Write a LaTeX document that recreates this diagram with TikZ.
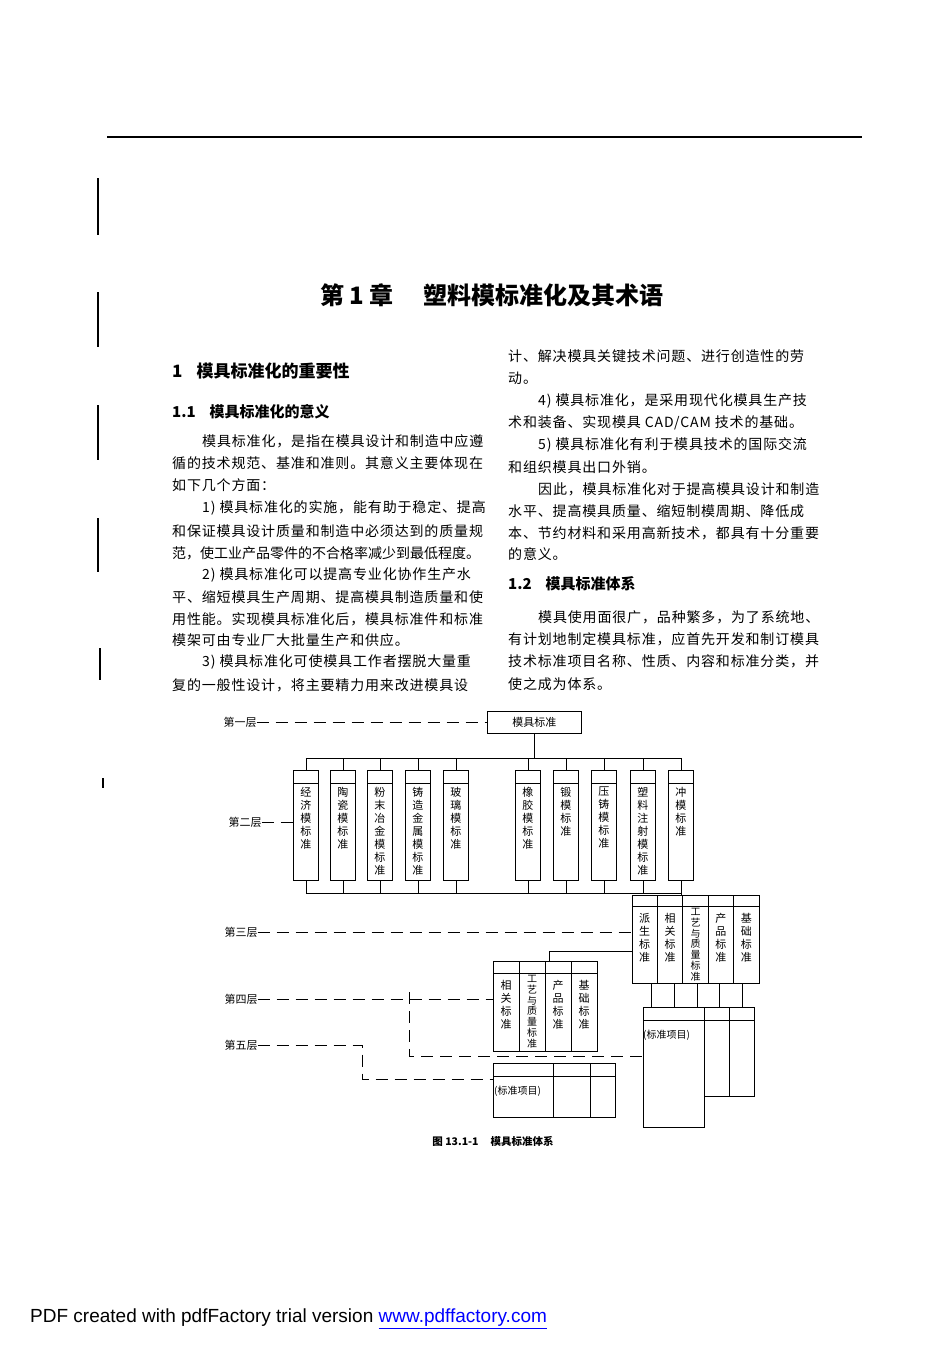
\documentclass[tikz,border=0pt]{standalone}
\usepackage{fontspec}
\setmainfont{Liberation Sans}
\newfontfamily\cjk{Noto Sans CJK SC}
\newfontfamily\cjkbody[LetterSpace=6]{Noto Sans CJK SC}
\newfontfamily\lsans{Liberation Sans}
\begin{document}
\begin{tikzpicture}[x=1pt,y=-1pt,
  body/.style={anchor=west,inner sep=0,font=\cjkbody\fontsize{14}{14}\selectfont},
  tight/.style={anchor=west,inner sep=0,font=\cjk\fontsize{14}{14}\selectfont},
  head/.style={anchor=west,inner sep=0,font=\cjk\bfseries\fontsize{15}{15}\selectfont},
  frame/.style={draw,line width=0.9pt,inner sep=0,anchor=north west},
  conn/.style={line width=0.8pt},
  dsh/.style={line width=0.8pt,dash pattern=on 12pt off 7pt},
  lvl/.style={inner sep=0,font=\cjk\fontsize{11}{11}\selectfont},
  vt/.style={inner sep=0,anchor=north,align=center,font=\cjk\fontsize{11}{13}\selectfont},
  vts/.style={inner sep=0,anchor=north,align=center,font=\cjk\fontsize{10}{10.8}\selectfont}]
\useasboundingbox (0,0) rectangle (950,1345);
\fill[white] (0,0) rectangle (950,1345);
% page furniture
\draw[line width=1.6pt] (107,137) -- (862,137);
\foreach \a/\b in {178/235,292/347,405/460,518/572}
  \draw[line width=1.5pt] (98,\a) -- (98,\b);
\draw[line width=2.5pt] (100,648) -- (100,680);
\draw[line width=1.8pt] (103,778) -- (103,788);
% title
\node[inner sep=0,font=\cjk\bfseries\fontsize{24}{24}\selectfont] (title) at (492,295) {第 1 章\hspace{30pt}塑料模标准化及其术语};
% left column
\node[inner sep=0,anchor=west,font=\cjk\bfseries\fontsize{17}{17}\selectfont] (h1) at (172,371) {1\hspace{14pt}模具标准化的重要性};
\node[head] (h11) at (172,412) {1.1\hspace{14pt}模具标准化的意义};
\node[body] (l1) at (202,441) {模具标准化，是指在模具设计和制造中应遵};
\node[body] (l2) at (172,463) {循的技术规范、基准和准则。其意义主要体现在};
\node[body] (l3) at (172,485) {如下几个方面：};
\node[body] (l4) at (202,508) {1) 模具标准化的实施，能有助于稳定、提高};
\node[body] (l5) at (172,531) {和保证模具设计质量和制造中必须达到的质量规};
\node[tight] (l6) at (172,553) {范，使工业产品零件的不合格率减少到最低程度。};
\node[body] (l7) at (202,575) {2) 模具标准化可以提高专业化协作生产水};
\node[body] (l8) at (172,597) {平、缩短模具生产周期、提高模具制造质量和使};
\node[body] (l9) at (172,619) {用性能。实现模具标准化后，模具标准件和标准};
\node[body] (l10) at (172,640) {模架可由专业厂大批量生产和供应。};
\node[body] (l11) at (202,662) {3) 模具标准化可使模具工作者摆脱大量重};
\node[body] (l12) at (172,685) {复的一般性设计，将主要精力用来改进模具设};
% right column
\node[body] (r1) at (508,356) {计、解决模具关键技术问题、进行创造性的劳};
\node[body] (r2) at (508,378) {动。};
\node[body] (r3) at (538,401) {4) 模具标准化，是采用现代化模具生产技};
\node[body] (r4) at (508,423) {术和装备、实现模具 CAD/CAM 技术的基础。};
\node[body] (r5) at (538,445) {5) 模具标准化有利于模具技术的国际交流};
\node[body] (r6) at (508,467) {和组织模具出口外销。};
\node[body] (r7) at (538,489) {因此，模具标准化对于提高模具设计和制造};
\node[body] (r8) at (508,511) {水平、提高模具质量、缩短制模周期、降低成};
\node[body] (r9) at (508,533) {本、节约材料和采用高新技术，都具有十分重要};
\node[body] (r10) at (508,554) {的意义。};
\node[head] (h12) at (508,584) {1.2\hspace{14pt}模具标准体系};
\node[body] (r11) at (538,617) {模具使用面很广，品种繁多，为了系统地、};
\node[body] (r12) at (508,639) {有计划地制定模具标准，应首先开发和制订模具};
\node[body] (r13) at (508,661) {技术标准项目名称、性质、内容和标准分类，并};
\node[body] (r14) at (508,684) {使之成为体系。};
% ===== diagram =====
\node[frame,minimum width=94pt,minimum height=22pt,font=\cjk\fontsize{11}{11}\selectfont] (top) at (487,711) {模具标准};
\foreach \n/\x/\t in {a/293/经\\济\\模\\标\\准,b/330/陶\\瓷\\模\\标\\准,c/367/粉\\末\\冶\\金\\模\\标\\准,
  d/405/铸\\造\\金\\属\\模\\标\\准,e/443/玻\\璃\\模\\标\\准,f/515/橡\\胶\\模\\标\\准,g/553/锻\\模\\标\\准,
  h/591/压\\铸\\模\\标\\准,i/630/塑\\料\\注\\射\\模\\标\\准,j/668/冲\\模\\标\\准}{
  \node[frame,minimum width=25pt,minimum height=110pt] (b\n) at (\x,770) {};
  \draw[line width=0.9pt] ([yshift=-13pt]b\n.north west) -- ([yshift=-13pt]b\n.north east);
  \node[vt] (t\n) at ([yshift=-17pt]b\n.north) {\t};
  \draw[conn] (b\n.north) -- (b\n.north |- 0,758);
  \draw[conn] (b\n.south) -- (b\n.south |- 0,893);
}
\draw[conn] (top.south) -- (top.south |- 0,758);
\draw[conn] (ba.north |- 0,758) -- (bj.north |- 0,758);
\draw[conn] (ba.south |- 0,893) -- (bj.south |- 0,893);
% row 3
\node[frame,minimum width=127pt,minimum height=88pt] (s3) at (632,895) {};
\draw[line width=0.9pt] ([yshift=-11pt]s3.north west) -- ([yshift=-11pt]s3.north east);
\foreach \k in {1,...,4} \draw[line width=0.9pt] (632+\k*25.4,895) -- (632+\k*25.4,983);
\foreach \k/\t in {0/派\\生\\标\\准,1/相\\关\\标\\准,3/产\\品\\标\\准,4/基\\础\\标\\准}
  \node[vt] (u\k) at (644.7+\k*25.4,913) {\t};
\node[vts] (u2) at (644.7+2*25.4,908) {工\\艺\\与\\质\\量\\标\\准};
\draw[conn] (bj.south |- 0,893) -- (bj.south |- s3.north);
% row 4
\node[frame,minimum width=104pt,minimum height=90pt] (s4) at (493,961) {};
\draw[line width=0.9pt] ([yshift=-12pt]s4.north west) -- ([yshift=-12pt]s4.north east);
\foreach \k in {1,2,3} \draw[line width=0.9pt] (493+\k*26,961) -- (493+\k*26,1051);
\foreach \k/\t in {0/相\\关\\标\\准,2/产\\品\\标\\准,3/基\\础\\标\\准}
  \node[vt] (w\k) at (506+\k*26,980) {\t};
\node[vts] (w2) at (506+26,975) {工\\艺\\与\\质\\量\\标\\准};
\coordinate (k1) at (549,951);
\draw[conn] (s3.west |- k1) -- (k1) -- (k1 |- s4.north);
% row 6 (right standard items)
\node[frame,minimum width=61pt,minimum height=120pt] (s6) at (643,1007) {};
\node[frame,minimum width=50pt,minimum height=89pt] (s6r) at (704,1007) {};
\draw[line width=0.9pt] (729,1007) -- (729,1096);
\draw[line width=0.9pt] (643,1020) -- (754,1020);
\node[inner sep=0,anchor=west,font=\cjk\fontsize{10}{10}\selectfont] (p6) at (643,1035) {(标准项目)};
\foreach \x in {651,674,697,719,742} \draw[conn] (\x,983) -- (\x,1007);
% row 5 (lower standard items)
\node[frame,minimum width=122pt,minimum height=54pt] (s5) at (493,1063) {};
\draw[line width=0.9pt] (493,1076) -- (615,1076);
\foreach \x in {553,590} \draw[line width=0.9pt] (\x,1063) -- (\x,1117);
\node[inner sep=0,anchor=west,font=\cjk\fontsize{10}{10}\selectfont] (p5) at (494,1091) {(标准项目)};
% level labels and dashed leaders
\node[lvl] (L1) at (240,722) {第一层};
\node[lvl] (L2) at (245,822) {第二层};
\node[lvl] (L3) at (241,932) {第三层};
\node[lvl] (L4) at (241,999) {第四层};
\node[lvl] (L5) at (241,1045) {第五层};
\draw[dsh] (L1.east) -- (top.west |- L1.east);
\draw[dsh] (L2.east) -- (ba.west |- L2.east);
\draw[dsh] (L3.east) -- (s3.west |- L3.east);
\draw[dsh] (L4.east) -- (s4.west |- L4.east);
\coordinate (c4) at (409,992);
\coordinate (c4b) at (409,1056);
\draw[dsh] (c4) -- (c4b) -- (s6.west |- c4b);
\coordinate (c5) at (362,1045);
\coordinate (c5b) at (362,1079);
\draw[dsh] (L5.east) -- (c5) -- (c5b) -- (s5.west |- c5b);
\node[inner sep=0,font=\cjk\bfseries\fontsize{10.5}{10.5}\selectfont] (cap) at (493,1141) {图 13.1-1\hspace{12pt}模具标准体系};
% footer
\node[inner sep=0,anchor=west,font=\lsans\fontsize{19}{19}\selectfont] (foot) at (30,1319)
  {PDF created with pdfFactory trial version \textcolor{blue}{\underline{www.pdffactory.com}}};
\end{tikzpicture}
\end{document}
